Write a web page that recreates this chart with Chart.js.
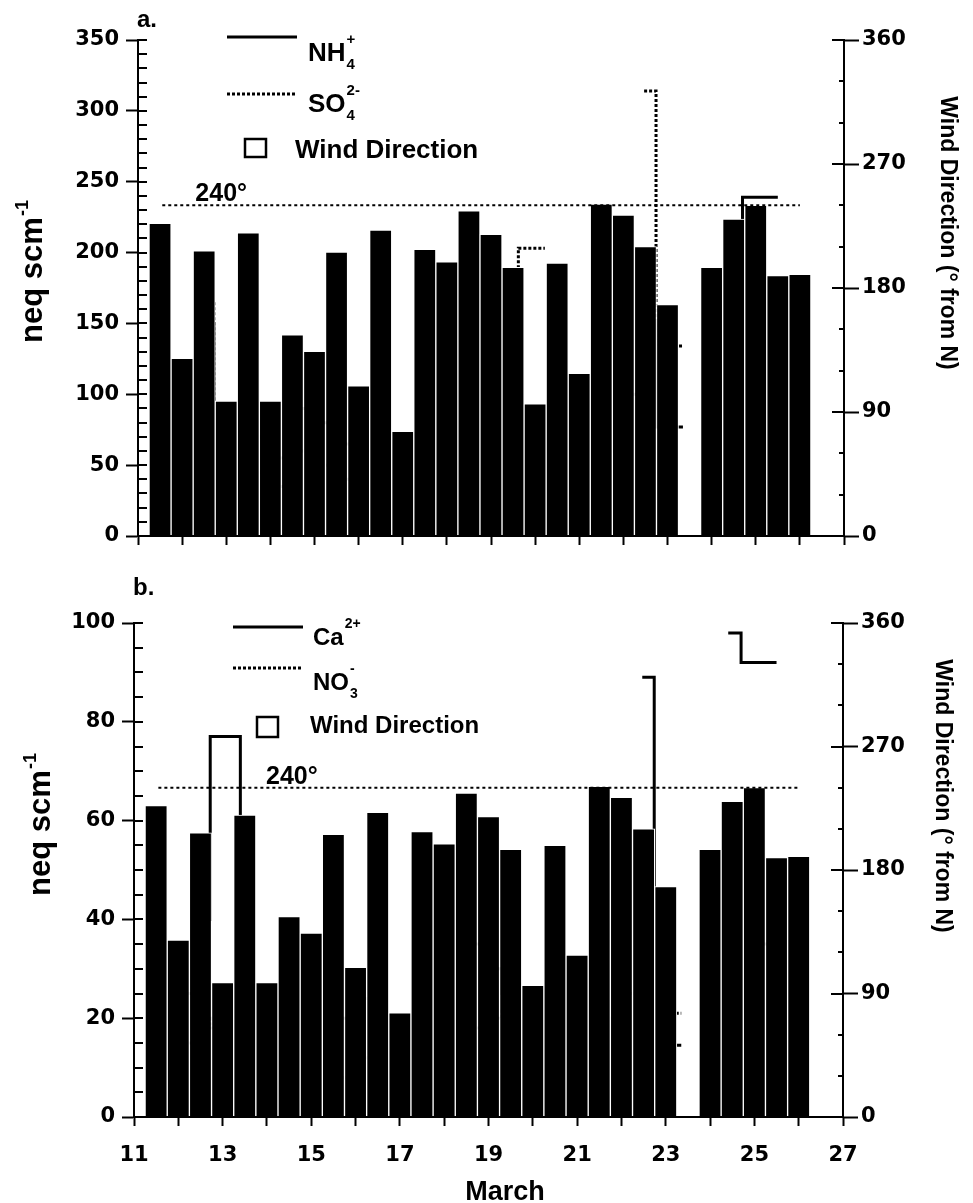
<!DOCTYPE html>
<html>
<head>
<meta charset="utf-8">
<script src="https://cdn.jsdelivr.net/npm/chart.js@4.4.1/dist/chart.umd.min.js"></script>
<style>
  html, body { margin: 0; padding: 0; background: #fff; }
  canvas { position: absolute; left: 0; }
  #chartA { top: 0; }
  #chartB { top: 560px; }
</style>
</head>
<body>
<canvas id="chartA" width="973" height="560"></canvas>
<canvas id="chartB" width="973" height="643"></canvas>
<script>
// wind direction, one bar per 12 h (degrees from N); 23.5 missing
const days = [11.5, 12, 12.5, 13, 13.5, 14, 14.5, 15, 15.5, 16, 16.5, 17, 17.5, 18, 18.5,
              19, 19.5, 20, 20.5, 21, 21.5, 22, 22.5, 23, 23.5, 24, 24.5, 25, 25.5, 26];
const windDir = [227, 129, 207, 98, 220, 98, 146, 134, 206, 109, 222, 76, 208, 199, 236,
                 219, 195, 96, 198, 118, 241, 233, 210, 168, null, 195, 230, 240, 189, 190];

// chemistry samples: start time of each sample (value holds until next start)
const chemStart = [11.45, 11.95, 12.45, 12.72, 13.4, 13.85, 14.35, 14.85, 15.35, 15.85,
                   16.35, 16.85, 17.35, 17.85, 18.35, 18.85, 19.3, 19.62, 20.22, 20.6,
                   21.1, 21.6, 22.1, 22.47, 22.74, 23.35, 23.9, 24.41, 24.7, 25.5];
const nh4 = [100, 110, 150, 60, 70, 55, 90, 80, 65, 90, 55, 45, 70, 60, 75,
             65, 60, 40, 50, 80, 70, 60, 100, 150, 77, 77, null, 180, 239, 239];
const so4 = [60, 80, 165, 40, 45, 35, 60, 50, 40, 60, 30, 25, 45, 35, 50,
             70, 100, 203, 203, null, 60, 60, null, 314, 134, 134, null, 100, 120, 120];
const ca = [20, 25, 40, 77, 20, 18, 25, 22, 20, 24, 15, 12, 30, 28, 35,
            30, 25, 15, 18, 25, 22, 22, null, 89, 14.5, 14.5, null, 98, 92, 92];
const no3 = [12, 15, 20, 18, 12, 10, 14, 12, 8, 12, 9, 8, 15, 12, 18,
             20, 22, 20, 12, 15, 18, 20, 25, 40, 21, 21, null, 40, 35, 35];

const marchLabels = [11, 13, 15, 17, 19, 21, 23, 25, 27];
const refDir = 240;
const refSpan = [11.55, 26];

const FONT = '"Liberation Sans", Arial, sans-serif';
const TICK_FONT = { family: '"DejaVu Sans", sans-serif', size: 21, weight: 'bold' };

const toPoints = (xs, ys) => xs.map((x, i) => ({ x: x, y: ys[i] }));

function richText(ctx, x, y, main, sub, sup, size) {
  ctx.font = 'bold ' + size + 'px ' + FONT;
  ctx.fillText(main, x, y);
  const w = ctx.measureText(main).width;
  ctx.font = 'bold ' + Math.round(size * 0.58) + 'px ' + FONT;
  if (sub) ctx.fillText(sub, x + w + 1, y + 8);
  if (sup) ctx.fillText(sup, x + w + 1, y - 17);
}

const decor = {
  id: 'decor',
  afterDraw(chart, args, o) {
    const ctx = chart.ctx;
    const area = chart.chartArea;
    const sx = chart.scales.x, sy = chart.scales.y, sw = chart.scales.y1;
    ctx.save();
    ctx.strokeStyle = '#000';
    ctx.fillStyle = '#000';

    // inner tick marks on both vertical axes
    ctx.lineWidth = 2;
    ctx.beginPath();
    for (let v = 0; v <= sy.max; v += o.yMinor) {
      const py = Math.round(sy.getPixelForValue(v));
      ctx.moveTo(area.left, py);
      ctx.lineTo(area.left + 9, py);
    }
    for (let v = 0; v <= sw.max; v += 30) {
      const py = Math.round(sw.getPixelForValue(v));
      ctx.moveTo(area.right, py);
      ctx.lineTo(area.right - (v % 90 === 0 ? 12 : 5), py);
    }
    ctx.stroke();

    // 240 degree label
    ctx.textAlign = 'left';
    ctx.textBaseline = 'alphabetic';
    ctx.font = 'bold 25px ' + FONT;
    ctx.fillText('240°', sx.getPixelForValue(o.refLabelX), sw.getPixelForValue(refDir) - 4);

    // legend
    const L = o.legend;
    ctx.lineWidth = 3;
    ctx.beginPath();
    ctx.moveTo(L.lineX1, L.y1); ctx.lineTo(L.lineX2, L.y1);
    ctx.stroke();
    ctx.setLineDash([3, 2]);
    ctx.beginPath();
    ctx.moveTo(L.lineX1, L.y2); ctx.lineTo(L.lineX2, L.y2);
    ctx.stroke();
    ctx.setLineDash([]);
    ctx.lineWidth = 2.5;
    ctx.strokeRect(L.box[0], L.box[1], L.box[2], L.box[3]);
    richText(ctx, L.textX, L.base1, L.names[0][0], L.names[0][1], L.names[0][2], L.size);
    richText(ctx, L.textX, L.base2, L.names[1][0], L.names[1][1], L.names[1][2], L.size);
    ctx.font = 'bold ' + L.size + 'px ' + FONT;
    ctx.fillText('Wind Direction', L.windX, L.base3);

    // panel letter
    ctx.font = 'bold 24px ' + FONT;
    ctx.fillText(o.letter, area.left - 1, o.letterY);

    // left title, rotated, with superscript
    ctx.save();
    ctx.translate(o.leftTitle[0], o.leftTitle[1]);
    ctx.rotate(-Math.PI / 2);
    ctx.font = 'bold 31px ' + FONT;
    const wm = ctx.measureText('neq scm').width;
    ctx.font = 'bold 18px ' + FONT;
    const ws = ctx.measureText('-1').width;
    const x0 = -(wm + ws) / 2;
    ctx.font = 'bold 31px ' + FONT;
    ctx.fillText('neq scm', x0, 0);
    ctx.font = 'bold 18px ' + FONT;
    ctx.fillText('-1', x0 + wm + 1, -14);
    ctx.restore();

    // right title
    ctx.save();
    ctx.translate(o.rightTitle[0], o.rightTitle[1]);
    ctx.rotate(Math.PI / 2);
    ctx.textAlign = 'center';
    ctx.font = 'bold 23px ' + FONT;
    ctx.fillText('Wind Direction (° from N)', 0, 0);
    ctx.restore();

    if (o.march) {
      ctx.textAlign = 'center';
      ctx.font = 'bold 27px ' + FONT;
      ctx.fillText('March', o.march[0], o.march[1]);
    }
    ctx.restore();
  }
};

function makePanel(p) {
  return new Chart(document.getElementById(p.canvas), {
    type: 'bar',
    data: {
      datasets: [
        {
          type: 'line', data: [{ x: refSpan[0], y: refDir }, { x: refSpan[1], y: refDir }],
          yAxisID: 'y1', borderColor: '#000', borderWidth: 2, borderDash: [3, 3],
          pointRadius: 0, order: 0
        },
        {
          type: 'bar', label: 'Wind Direction', data: toPoints(days, windDir), yAxisID: 'y1',
          backgroundColor: '#000', borderColor: '#fff', borderWidth: 1, borderSkipped: 'start',
          barPercentage: 1, categoryPercentage: 1, order: 1
        },
        {
          type: 'line', label: p.names[0], data: toPoints(chemStart, p.conc[0]), yAxisID: 'y',
          borderColor: '#000', borderWidth: 3, stepped: 'before', pointRadius: 0,
          spanGaps: false, fill: false, order: 2
        },
        {
          type: 'line', label: p.names[1], data: toPoints(chemStart, p.conc[1]), yAxisID: 'y',
          borderColor: '#000', borderWidth: 3, borderDash: [3, 2], stepped: 'before',
          pointRadius: 0, spanGaps: false, fill: false, order: 2
        }
      ]
    },
    options: {
      responsive: false,
      animation: false,
      devicePixelRatio: 1,
      layout: { padding: { top: p.top, left: 0, right: 0, bottom: 0 } },
      plugins: {
        legend: { display: false },
        tooltip: { enabled: false },
        decor: p.decor
      },
      scales: {
        x: {
          type: 'linear', min: 11, max: 27, offset: false,
          afterFit: s => { s.height = p.xHeight; },
          grid: { drawOnChartArea: false, drawTicks: true, tickLength: 9, tickWidth: 2,
                  tickColor: '#000', offset: false },
          border: { display: true, color: '#000', width: 2, z: 1 },
          ticks: {
            display: p.showX, stepSize: 1, autoSkip: false, maxRotation: 0, padding: 17,
            color: '#000', font: TICK_FONT,
            callback: v => marchLabels.includes(v) ? String(v) : ''
          }
        },
        y: {
          type: 'linear', position: 'left', min: 0, max: p.yMax,
          afterFit: s => { s.width = p.left; },
          grid: { drawOnChartArea: false, tickLength: 12, tickWidth: 2, tickColor: '#000' },
          border: { display: true, color: '#000', width: 2, z: 1 },
          ticks: { stepSize: p.yStep, padding: 7, color: '#000', font: TICK_FONT }
        },
        y1: {
          type: 'linear', position: 'right', min: 0, max: 360,
          afterFit: s => { s.width = 973 - p.right; },
          grid: { drawOnChartArea: false, tickLength: 15, tickWidth: 2, tickColor: '#000' },
          border: { display: true, color: '#000', width: 2, z: 1 },
          ticks: { stepSize: 90, padding: 3, color: '#000', font: TICK_FONT }
        }
      }
    },
    plugins: [decor]
  });
}

makePanel({
  canvas: 'chartA', top: 40, left: 138, right: 844, xHeight: 24,
  yMax: 350, yStep: 50, conc: [nh4, so4], names: ['NH4+', 'SO4 2-'], showX: false,
  decor: {
    yMinor: 10, refLabelX: 12.3, letter: 'a.', letterY: 27,
    leftTitle: [42, 272], rightTitle: [941, 233], march: null,
    legend: {
      lineX1: 227, lineX2: 297, y1: 37, y2: 94, box: [245, 139, 21, 18],
      textX: 308, base1: 61, base2: 112, windX: 295, base3: 158, size: 26,
      names: [['NH', '4', '+'], ['SO', '4', '2-']]
    }
  }
});

makePanel({
  canvas: 'chartB', top: 63, left: 134, right: 843, xHeight: 86,
  yMax: 100, yStep: 20, conc: [ca, no3], names: ['Ca2+', 'NO3-'], showX: true,
  decor: {
    yMinor: 5, refLabelX: 13.98, letter: 'b.', letterY: 35,
    leftTitle: [50, 265], rightTitle: [936, 236], march: [505, 640],
    legend: {
      lineX1: 233, lineX2: 303, y1: 67, y2: 108, box: [257, 157, 21, 20],
      textX: 313, base1: 85, base2: 130, windX: 310, base3: 173, size: 24,
      names: [['Ca', null, '2+'], ['NO', '3', '-']]
    }
  }
});
</script>
</body>
</html>
